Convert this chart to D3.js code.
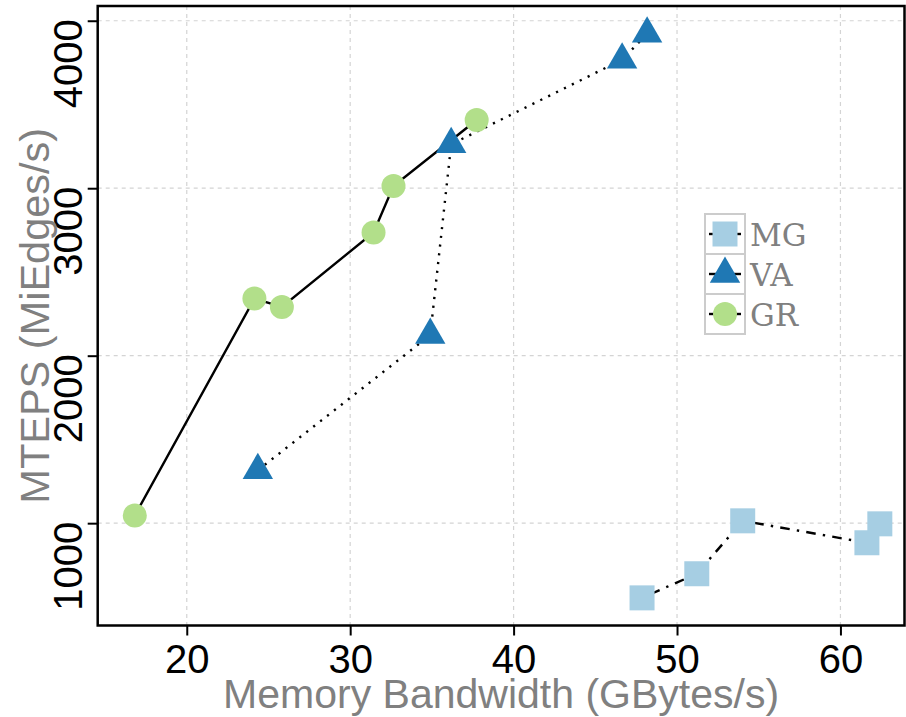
<!DOCTYPE html>
<html>
<head>
<meta charset="utf-8">
<script src="https://cdn.jsdelivr.net/npm/d3@7"></script>
<style>
  body { margin: 0; background: #fff; }
  svg { display: block; }
</style>
</head>
<body>
<div id="chart"></div>
<script>
// values
var mgBandwidth = [47.86, 51.21, 54.02, 61.62, 62.41];
var mgMteps     = [554, 698, 1014, 883, 996];
var vaBandwidth = [24.35, 34.90, 36.18, 46.64, 48.17];
var vaMteps     = [1316, 2123, 3262, 3767, 3922];
var grBandwidth = [16.82, 24.14, 25.82, 31.43, 32.65, 37.74];
var grMteps     = [1046, 2341, 2291, 2736, 3013, 3407];
var seriesNames = ["MG", "VA", "GR"];
var xTicks = [20, 30, 40, 50, 60];
var yTicks = [1000, 2000, 3000, 4000];

var width = 906, height = 717;
var plotLeft = 97.7, plotRight = 904.5, plotTop = 6, plotBottom = 625.5;

var svg = d3.select("#chart").append("svg")
  .attr("width", width)
  .attr("height", height);

var x = d3.scaleLinear().domain([14.55, 63.92]).range([plotLeft, plotRight]);
var y = d3.scaleLinear().domain([389, 4088]).range([plotBottom, plotTop]);

// grid
svg.append("g").selectAll("line")
  .data(xTicks).enter().append("line")
    .attr("x1", function(d) { return x(d) }).attr("x2", function(d) { return x(d) })
    .attr("y1", plotTop).attr("y2", plotBottom)
    .attr("stroke", "#d4d4d4").attr("stroke-width", 1.2)
    .attr("stroke-dasharray", "4,4");
svg.append("g").selectAll("line")
  .data(yTicks).enter().append("line")
    .attr("y1", function(d) { return y(d) }).attr("y2", function(d) { return y(d) })
    .attr("x1", plotLeft).attr("x2", plotRight)
    .attr("stroke", "#d4d4d4").attr("stroke-width", 1.2)
    .attr("stroke-dasharray", "4,4");

// axes
var xAxis = svg.append("g")
  .attr("transform", "translate(0," + plotBottom + ")")
  .call(d3.axisBottom(x).tickValues(xTicks).tickSize(10).tickFormat(d3.format("d")));
xAxis.select(".domain").remove();
xAxis.selectAll("line").attr("stroke", "#000").attr("stroke-width", 2);
xAxis.selectAll("text")
  .attr("y", 47).attr("dy", null)
  .style("font-family", "'Liberation Sans', Arial, sans-serif")
  .style("font-size", "40px")
  .attr("fill", "#000");

var yAxis = svg.append("g")
  .attr("transform", "translate(" + plotLeft + ",0)")
  .call(d3.axisLeft(y).tickValues(yTicks).tickSize(10).tickFormat(d3.format("d")));
yAxis.select(".domain").remove();
yAxis.selectAll("line").attr("stroke", "#000").attr("stroke-width", 2);
yAxis.selectAll("text")
  .attr("x", null).attr("dy", null)
  .attr("transform", "translate(-15.5,-2) rotate(-90)")
  .style("text-anchor", "end")
  .style("font-family", "'Liberation Sans', Arial, sans-serif")
  .style("font-size", "40px")
  .attr("fill", "#000");

// frame
svg.append("rect")
  .attr("x", plotLeft).attr("y", plotTop)
  .attr("width", plotRight - plotLeft).attr("height", plotBottom - plotTop)
  .attr("fill", "none").attr("stroke", "#000").attr("stroke-width", 2.5);

// axis titles
svg.append("text")
  .attr("x", (plotLeft + plotRight) / 2).attr("y", 708)
  .style("text-anchor", "middle")
  .style("font-family", "'Liberation Sans', Arial, sans-serif")
  .style("font-size", "41px")
  .attr("fill", "#808080")
  .text("Memory Bandwidth (GBytes/s)");

svg.append("text")
  .attr("transform", "translate(49," + ((plotTop + plotBottom) / 2) + ") rotate(-90)")
  .style("text-anchor", "middle")
  .style("font-family", "'Liberation Sans', Arial, sans-serif")
  .style("font-size", "41.5px")
  .attr("fill", "#808080")
  .text("MTEPS (MiEdges/s)");

function toPoints(xs, ys) {
  return xs.map(function(v, i) { return { bw: v, mt: ys[i] } });
}
var mgData = toPoints(mgBandwidth, mgMteps);
var vaData = toPoints(vaBandwidth, vaMteps);
var grData = toPoints(grBandwidth, grMteps);

var pathLine = d3.line()
  .x(function(d) { return x(d.bw) })
  .y(function(d) { return y(d.mt) });

var styles = {
  MG: { color: "#a6cee3", dash: "2.4,7.2,9.6,7.2", shape: d3.symbolSquare, size: 625 },
  VA: { color: "#1f78b4", dash: "2.2,6.6", shape: d3.symbolTriangle, size: 400 },
  GR: { color: "#b2df8a", dash: null, shape: d3.symbolCircle, size: Math.PI * 12 * 12 }
};

// lines
[["GR", grData], ["VA", vaData], ["MG", mgData]].forEach(function(s) {
  var st = styles[s[0]];
  svg.append("path")
    .attr("d", pathLine(s[1]))
    .attr("fill", "none")
    .attr("stroke", "#000")
    .attr("stroke-width", 2.4)
    .attr("stroke-dasharray", st.dash);
});

// points
[["GR", grData], ["VA", vaData], ["MG", mgData]].forEach(function(s) {
  var st = styles[s[0]];
  svg.append("g").selectAll("path")
    .data(s[1]).enter().append("path")
      .attr("transform", function(d) { return "translate(" + x(d.bw) + "," + y(d.mt) + ")" })
      .attr("d", d3.symbol().type(st.shape).size(st.size))
      .attr("fill", st.color);
});

// legend
var legX = 705, legY = 214, cell = 40;
var leg = svg.append("g");
seriesNames.forEach(function(name, i) {
  var st = styles[name];
  var cy = legY + i * cell + cell / 2;
  leg.append("rect")
    .attr("x", legX).attr("y", legY + i * cell)
    .attr("width", cell).attr("height", cell)
    .attr("fill", "#fff").attr("stroke", "#cccccc").attr("stroke-width", 2);
  leg.append("line")
    .attr("x1", legX + 4).attr("x2", legX + cell - 4)
    .attr("y1", cy).attr("y2", cy)
    .attr("stroke", "#000").attr("stroke-width", 2.4);
  leg.append("path")
    .attr("transform", "translate(" + (legX + cell / 2) + "," + cy + ")")
    .attr("d", d3.symbol().type(st.shape).size(st.size))
    .attr("fill", st.color);
  leg.append("text")
    .attr("x", 750).attr("y", cy + 12)
    .style("font-family", "'DejaVu Serif', serif")
    .style("font-size", "31px")
    .attr("fill", "#808080")
    .text(name);
});
</script>
</body>
</html>
